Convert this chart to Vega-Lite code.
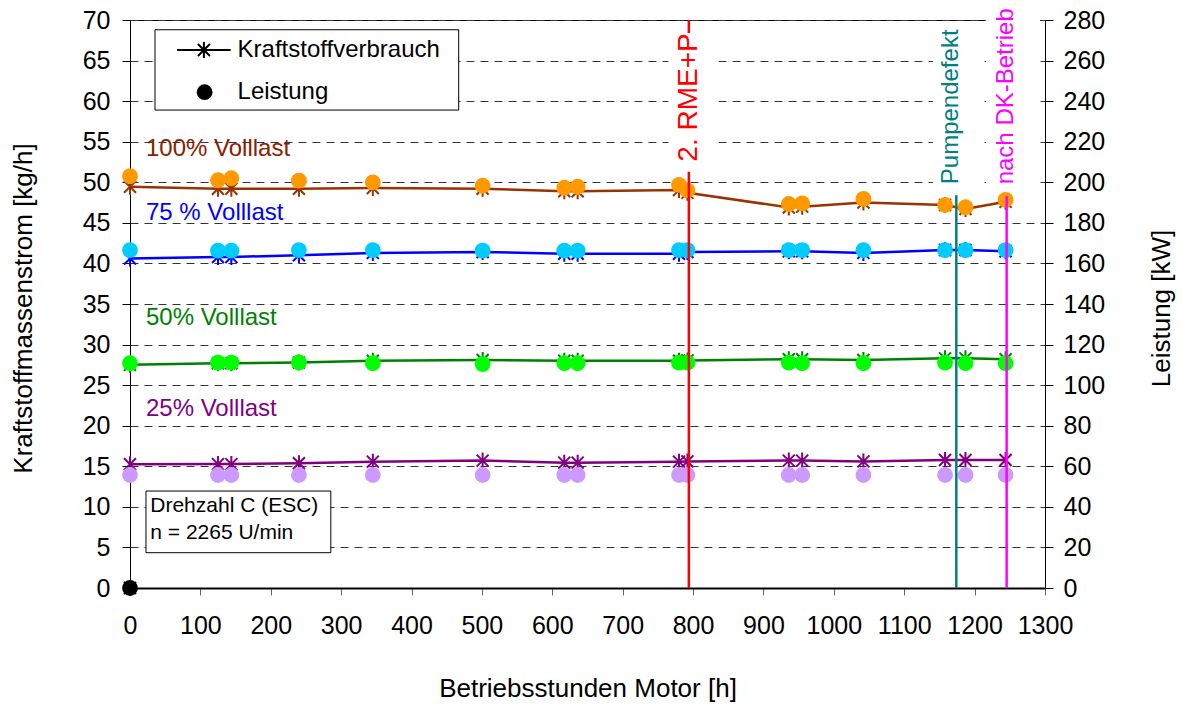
{
  "$schema": "https://vega.github.io/schema/vega-lite/v6.json",
  "width": 915,
  "height": 568,
  "autosize": {"type": "none"},
  "padding": {"left": 130, "top": 20, "right": 138, "bottom": 116},
  "background": "white",
  "config": {
    "font": "Liberation Sans",
    "view": {"stroke": "black", "strokeWidth": 1},
    "axis": {"labelFont": "Liberation Sans", "titleFont": "Liberation Sans", "labelColor": "black", "titleColor": "black", "titleFontWeight": "normal", "domainColor": "black", "tickColor": "black", "labelFlush": false, "labelOverlap": false},
    "text": {"font": "Liberation Sans"}
  },
  "datasets": {
    "mess": [
      {"h": 0, "last": "100%", "kg": 49.45, "kw": 203},
      {"h": 125, "last": "100%", "kg": 49.2, "kw": 201},
      {"h": 144, "last": "100%", "kg": 49.2, "kw": 202},
      {"h": 240, "last": "100%", "kg": 49.2, "kw": 200.8},
      {"h": 345, "last": "100%", "kg": 49.3, "kw": 200},
      {"h": 501, "last": "100%", "kg": 49.2, "kw": 198.3},
      {"h": 617, "last": "100%", "kg": 48.9, "kw": 197.3},
      {"h": 636, "last": "100%", "kg": 48.9, "kw": 197.8},
      {"h": 780, "last": "100%", "kg": 49.05, "kw": 198.7},
      {"h": 792, "last": "100%", "kg": 48.7, "kw": 196},
      {"h": 936, "last": "100%", "kg": 46.9, "kw": 189.3},
      {"h": 955, "last": "100%", "kg": 47.0, "kw": 189.6},
      {"h": 1042, "last": "100%", "kg": 47.5, "kw": 191.8},
      {"h": 1158, "last": "100%", "kg": 47.2, "kw": 188.8},
      {"h": 1187, "last": "100%", "kg": 46.7, "kw": 187.7},
      {"h": 1244, "last": "100%", "kg": 47.6, "kw": 191.3},
      {"h": 0, "last": "75%", "kg": 40.6, "kw": 166.6},
      {"h": 125, "last": "75%", "kg": 40.8, "kw": 166.3},
      {"h": 144, "last": "75%", "kg": 40.8, "kw": 166.3},
      {"h": 240, "last": "75%", "kg": 41.0, "kw": 166.6},
      {"h": 345, "last": "75%", "kg": 41.3, "kw": 166.6},
      {"h": 501, "last": "75%", "kg": 41.4, "kw": 166.3},
      {"h": 617, "last": "75%", "kg": 41.2, "kw": 166.3},
      {"h": 636, "last": "75%", "kg": 41.2, "kw": 166.3},
      {"h": 780, "last": "75%", "kg": 41.2, "kw": 166.6},
      {"h": 792, "last": "75%", "kg": 41.4, "kw": 166.6},
      {"h": 936, "last": "75%", "kg": 41.5, "kw": 166.6},
      {"h": 955, "last": "75%", "kg": 41.5, "kw": 166.6},
      {"h": 1042, "last": "75%", "kg": 41.3, "kw": 166.6},
      {"h": 1158, "last": "75%", "kg": 41.65, "kw": 166.6},
      {"h": 1187, "last": "75%", "kg": 41.65, "kw": 166.6},
      {"h": 1244, "last": "75%", "kg": 41.5, "kw": 166.6},
      {"h": 0, "last": "50%", "kg": 27.5, "kw": 110.8},
      {"h": 125, "last": "50%", "kg": 27.7, "kw": 111.1},
      {"h": 144, "last": "50%", "kg": 27.7, "kw": 111.1},
      {"h": 240, "last": "50%", "kg": 27.8, "kw": 111.2},
      {"h": 345, "last": "50%", "kg": 28.0, "kw": 110.8},
      {"h": 501, "last": "50%", "kg": 28.1, "kw": 110.4},
      {"h": 617, "last": "50%", "kg": 28.0, "kw": 110.8},
      {"h": 636, "last": "50%", "kg": 28.0, "kw": 110.8},
      {"h": 780, "last": "50%", "kg": 28.0, "kw": 111.1},
      {"h": 792, "last": "50%", "kg": 28.05, "kw": 111.1},
      {"h": 936, "last": "50%", "kg": 28.2, "kw": 111.1},
      {"h": 955, "last": "50%", "kg": 28.2, "kw": 110.8},
      {"h": 1042, "last": "50%", "kg": 28.1, "kw": 110.8},
      {"h": 1158, "last": "50%", "kg": 28.3, "kw": 111.1},
      {"h": 1187, "last": "50%", "kg": 28.3, "kw": 110.8},
      {"h": 1244, "last": "50%", "kg": 28.2, "kw": 110.8},
      {"h": 0, "last": "25%", "kg": 15.25, "kw": 55.7},
      {"h": 125, "last": "25%", "kg": 15.27, "kw": 55.7},
      {"h": 144, "last": "25%", "kg": 15.27, "kw": 55.7},
      {"h": 240, "last": "25%", "kg": 15.37, "kw": 55.7},
      {"h": 345, "last": "25%", "kg": 15.57, "kw": 55.7},
      {"h": 501, "last": "25%", "kg": 15.7, "kw": 55.7},
      {"h": 617, "last": "25%", "kg": 15.45, "kw": 55.7},
      {"h": 636, "last": "25%", "kg": 15.45, "kw": 55.7},
      {"h": 780, "last": "25%", "kg": 15.57, "kw": 55.7},
      {"h": 792, "last": "25%", "kg": 15.6, "kw": 55.7},
      {"h": 936, "last": "25%", "kg": 15.7, "kw": 55.7},
      {"h": 955, "last": "25%", "kg": 15.7, "kw": 55.7},
      {"h": 1042, "last": "25%", "kg": 15.6, "kw": 55.7},
      {"h": 1158, "last": "25%", "kg": 15.77, "kw": 55.7},
      {"h": 1187, "last": "25%", "kg": 15.77, "kw": 55.7},
      {"h": 1244, "last": "25%", "kg": 15.77, "kw": 55.7},
      {"h": 0, "last": "Null", "kg": 0, "kw": 0}
    ]
  },
  "resolve": {"scale": {"y": "independent"}},
  "layer": [
    {
      "data": {"name": "mess"},
      "encoding": {
        "x": {"field": "h", "type": "quantitative", "scale": {"domain": [0, 1300], "nice": false},
          "axis": {"orient": "bottom", "values": [0, 100, 200, 300, 400, 500, 600, 700, 800, 900, 1000, 1100, 1200, 1300], "format": "d", "title": "Betriebsstunden Motor [h]", "grid": false, "labelFontSize": 25, "titleFontSize": 26, "tickSize": 7, "tickColor": "#666666", "domainWidth": 2, "labelPadding": 18, "titleY": 108, "titleBaseline": "alphabetic"}},
        "y": {"field": "kg", "type": "quantitative", "scale": {"domain": [0, 70], "nice": false},
          "axis": {"orient": "left", "values": [0, 5, 10, 15, 20, 25, 30, 35, 40, 45, 50, 55, 60, 65, 70], "title": "Kraftstoffmassenstrom [kg/h]", "grid": true, "gridDash": [8, 6], "gridColor": "#333333", "labelFontSize": 25, "titleFontSize": 26, "tickSize": 8, "labelPadding": 12, "titleAngle": 270, "titleX": -107, "titleY": 288, "titleBaseline": "middle", "titleAlign": "center"}},
        "stroke": {"field": "last", "type": "nominal", "scale": {"domain": ["100%", "75%", "50%", "25%", "Null"], "range": ["#993300", "#0000FF", "#008000", "#800080", "#000000"]}, "legend": null}
      },
      "layer": [
        {"mark": {"type": "line", "strokeWidth": 2.5}},
        {"mark": {"type": "point", "shape": "M-0.75,-0.75L0.75,0.75M-0.75,0.75L0.75,-0.75M0,-1L0,1", "filled": false, "size": 256, "strokeWidth": 2, "opacity": 1}}
      ]
    },
    {
      "data": {"name": "mess"},
      "mark": {"type": "point", "shape": "circle", "filled": true, "size": 250, "opacity": 1},
      "encoding": {
        "x": {"field": "h", "type": "quantitative"},
        "y": {"field": "kw", "type": "quantitative", "scale": {"domain": [0, 280], "nice": false},
          "axis": {"orient": "right", "values": [0, 20, 40, 60, 80, 100, 120, 140, 160, 180, 200, 220, 240, 260, 280], "title": "Leistung [kW]", "grid": false, "labelFontSize": 25, "titleFontSize": 26, "tickSize": 8, "labelPadding": 10, "titleAngle": 270, "titleX": 116, "titleY": 288, "titleBaseline": "middle", "titleAlign": "center"}},
        "fill": {"field": "last", "type": "nominal", "scale": {"domain": ["100%", "75%", "50%", "25%", "Null"], "range": ["#FF9900", "#00CCFF", "#00FF00", "#CC99FF", "#000000"]}, "legend": null}
      }
    },
    {
      "data": {"values": [{}]},
      "layer": [
        {"mark": {"type": "rule", "color": "#FF0000", "strokeWidth": 2.5},
          "encoding": {"x": {"datum": 794, "type": "quantitative"}, "y": {"datum": 0, "type": "quantitative", "scale": {"domain": [0, 70], "nice": false}, "axis": null}, "y2": {"datum": 70}}},
        {"mark": {"type": "rule", "color": "#008080", "strokeWidth": 2.5},
          "encoding": {"x": {"datum": 1174, "type": "quantitative"}, "y": {"datum": 0, "type": "quantitative", "axis": null}, "y2": {"datum": 48.4}}},
        {"mark": {"type": "rule", "color": "#FF00FF", "strokeWidth": 2.5},
          "encoding": {"x": {"datum": 1245.5, "type": "quantitative"}, "y": {"datum": 0, "type": "quantitative", "axis": null}, "y2": {"datum": 48.3}}},
        {"mark": {"type": "rect", "fill": "white"},
          "encoding": {"x": {"datum": 765, "type": "quantitative"}, "x2": {"datum": 836}, "y": {"datum": 51.3, "type": "quantitative", "axis": null}, "y2": {"datum": 68.4}}},
        {"mark": {"type": "rect", "fill": "white"},
          "encoding": {"x": {"datum": 1141, "type": "quantitative"}, "x2": {"datum": 1208}, "y": {"datum": 49.05, "type": "quantitative", "axis": null}, "y2": {"datum": 69.4}}},
        {"mark": {"type": "rect", "fill": "white"},
          "encoding": {"x": {"datum": 1216, "type": "quantitative"}, "x2": {"datum": 1293}, "y": {"datum": 49.05, "type": "quantitative", "axis": null}, "y2": {"datum": 71.85}}},
        {"mark": {"type": "text", "text": "2. RME+P", "angle": 270, "align": "center", "baseline": "middle", "fontSize": 28, "color": "#FF0000"},
          "encoding": {"x": {"datum": 794, "type": "quantitative"}, "y": {"datum": 60.45, "type": "quantitative", "axis": null}}},
        {"mark": {"type": "text", "text": "Pumpendefekt", "angle": 270, "align": "center", "baseline": "middle", "fontSize": 24, "color": "#008080"},
          "encoding": {"x": {"datum": 1166.6, "type": "quantitative"}, "y": {"datum": 59.3, "type": "quantitative", "axis": null}}},
        {"mark": {"type": "text", "text": "nach DK-Betrieb", "angle": 270, "align": "center", "baseline": "middle", "fontSize": 24, "color": "#FF00FF"},
          "encoding": {"x": {"datum": 1244.4, "type": "quantitative"}, "y": {"datum": 60.6, "type": "quantitative", "axis": null}}},
        {"mark": {"type": "rect", "fill": "white", "stroke": "black", "strokeWidth": 1},
          "encoding": {"x": {"datum": 35.5, "type": "quantitative"}, "x2": {"datum": 467}, "y": {"datum": 58.9, "type": "quantitative", "axis": null}, "y2": {"datum": 68.8}}},
        {"mark": {"type": "rule", "color": "black", "strokeWidth": 2},
          "encoding": {"x": {"datum": 67, "type": "quantitative"}, "x2": {"datum": 143}, "y": {"datum": 66.3, "type": "quantitative", "axis": null}}},
        {"mark": {"type": "point", "shape": "M-0.75,-0.75L0.75,0.75M-0.75,0.75L0.75,-0.75M0,-1L0,1", "filled": false, "size": 256, "strokeWidth": 2, "color": "black", "opacity": 1},
          "encoding": {"x": {"datum": 105, "type": "quantitative"}, "y": {"datum": 66.3, "type": "quantitative", "axis": null}}},
        {"mark": {"type": "point", "shape": "circle", "filled": true, "size": 250, "color": "black", "opacity": 1},
          "encoding": {"x": {"datum": 106, "type": "quantitative"}, "y": {"datum": 61.1, "type": "quantitative", "axis": null}}},
        {"mark": {"type": "text", "text": "Kraftstoffverbrauch", "align": "left", "baseline": "middle", "fontSize": 24, "color": "black"},
          "encoding": {"x": {"datum": 152.8, "type": "quantitative"}, "y": {"datum": 66.3, "type": "quantitative", "axis": null}}},
        {"mark": {"type": "text", "text": "Leistung", "align": "left", "baseline": "middle", "fontSize": 24, "color": "black"},
          "encoding": {"x": {"datum": 152.8, "type": "quantitative"}, "y": {"datum": 61.1, "type": "quantitative", "axis": null}}},
        {"mark": {"type": "rect", "fill": "white", "stroke": "black", "strokeWidth": 1},
          "encoding": {"x": {"datum": 22.7, "type": "quantitative"}, "x2": {"datum": 285.3}, "y": {"datum": 4.35, "type": "quantitative", "axis": null}, "y2": {"datum": 11.95}}},
        {"mark": {"type": "text", "text": "Drehzahl C (ESC)", "align": "left", "baseline": "middle", "fontSize": 21, "color": "black"},
          "encoding": {"x": {"datum": 28.8, "type": "quantitative"}, "y": {"datum": 10.1, "type": "quantitative", "axis": null}}},
        {"mark": {"type": "text", "text": "n = 2265 U/min", "align": "left", "baseline": "middle", "fontSize": 21, "color": "black"},
          "encoding": {"x": {"datum": 28.8, "type": "quantitative"}, "y": {"datum": 6.78, "type": "quantitative", "axis": null}}},
        {"mark": {"type": "text", "text": "100% Volllast", "align": "left", "baseline": "middle", "fontSize": 24, "color": "#8B2000"},
          "encoding": {"x": {"datum": 22.7, "type": "quantitative"}, "y": {"datum": 54.1, "type": "quantitative", "axis": null}}},
        {"mark": {"type": "text", "text": "75 % Volllast", "align": "left", "baseline": "middle", "fontSize": 24, "color": "#0000FF"},
          "encoding": {"x": {"datum": 22.7, "type": "quantitative"}, "y": {"datum": 46.2, "type": "quantitative", "axis": null}}},
        {"mark": {"type": "text", "text": "50% Volllast", "align": "left", "baseline": "middle", "fontSize": 24, "color": "#008000"},
          "encoding": {"x": {"datum": 22.7, "type": "quantitative"}, "y": {"datum": 33.3, "type": "quantitative", "axis": null}}},
        {"mark": {"type": "text", "text": "25% Volllast", "align": "left", "baseline": "middle", "fontSize": 24, "color": "#800080"},
          "encoding": {"x": {"datum": 22.7, "type": "quantitative"}, "y": {"datum": 22.06, "type": "quantitative", "axis": null}}}
      ]
    }
  ]
}
